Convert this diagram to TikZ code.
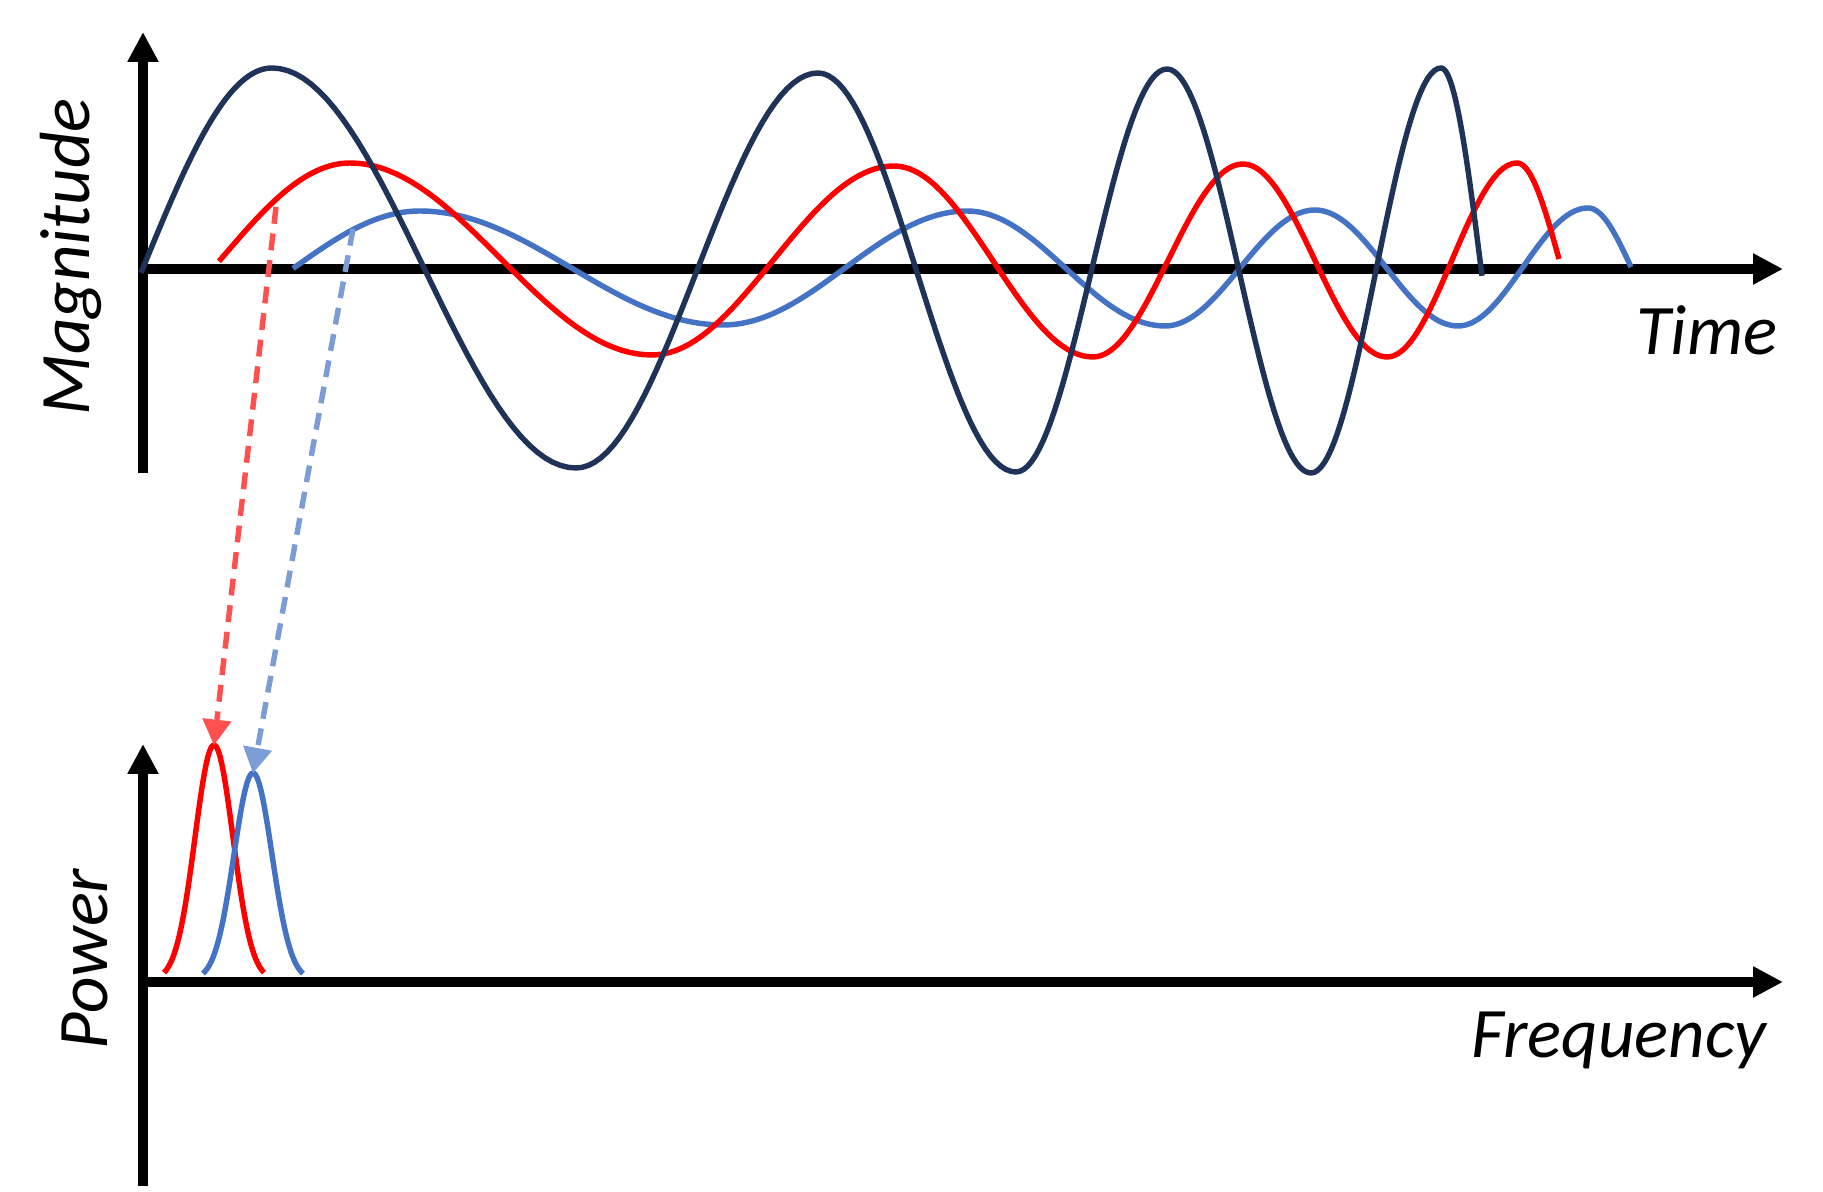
\documentclass[tikz,border=0pt]{standalone}
\usepackage{fontspec}
\setmainfont{Carlito}
\usetikzlibrary{arrows.meta}
\definecolor{navyc}{RGB}{31,51,88}
\definecolor{redc}{RGB}{255,0,0}
\definecolor{bluec}{RGB}{68,114,196}
\definecolor{redl}{RGB}{255,80,80}
\definecolor{bluel}{RGB}{124,156,214}
\newcommand\hwA[6]{plot[domain=#5:#6,samples=40] (\x,{(#2+#4)/2+(#2-#4)/2*cos((\x-#1)/(#3-#1)*180)})}
\newcommand\hwB[6]{-- plot[domain=#5:#6,samples=40] (\x,{(#2+#4)/2+(#2-#4)/2*cos((\x-#1)/(#3-#1)*180)})}
\begin{document}
\begin{tikzpicture}[x=0.01cm,y=-0.01cm,
  axis/.style={line width=3pt,-{Triangle[length=8.5pt,width=8.3pt]}},
  wave/.style={line width=1.55pt,line join=round},
  dasharrow/.style={line width=1.55pt,dash pattern=on 4.8pt off 2.8pt,-{Triangle[length=7.2pt,width=8.4pt,line width=0pt]}},
  lbl/.style={font=\fontsize{20.2}{24}\selectfont\itshape,inner sep=0pt}]
\useasboundingbox (0,0) rectangle (1823,1192);
% axes
\coordinate (ya0) at (143,473); \coordinate (ya1) at (143,32);
\coordinate (xa0) at (138,269); \coordinate (xa1) at (1783,269);
\coordinate (yb0) at (143,1186); \coordinate (yb1) at (143,744);
\coordinate (xb0) at (138,982); \coordinate (xb1) at (1783,982);
\draw[axis] (ya0) -- (ya1);
\draw[axis] (xa0) -- (xa1);
\draw[axis] (yb0) -- (yb1);
\draw[axis] (xb0) -- (xb1);
% labels
\node[lbl,rotate=90,anchor=base] (mag) at (90,257) {Magnitude};
\node[lbl,rotate=90,anchor=base] (pow) at (107,959) {Power};
\node[lbl,anchor=base east] (time) at (1778,355) {Time};
\node[lbl,anchor=base east] (freq) at (1767,1058) {Frequency};
% blue wave
\draw[wave,bluec] \hwA{166}{326}{420}{211}{293}{420}
  \hwB{420}{211}{723}{325}{420}{723}
  \hwB{723}{325}{967}{211}{723}{967}
  \hwB{967}{211}{1165}{326}{967}{1165}
  \hwB{1165}{326}{1315}{210}{1165}{1315}
  \hwB{1315}{210}{1458}{326}{1315}{1458}
  \hwB{1458}{326}{1588}{208}{1458}{1588}
  \hwB{1588}{208}{1674}{326}{1588}{1631};
% red wave
\draw[wave,redc] \hwA{92}{355}{350}{163}{219}{350}
  \hwB{350}{163}{652}{355}{350}{652}
  \hwB{652}{355}{894}{166}{652}{894}
  \hwB{894}{166}{1093}{357}{894}{1093}
  \hwB{1093}{357}{1243}{164}{1093}{1243}
  \hwB{1243}{164}{1387}{357}{1243}{1387}
  \hwB{1387}{357}{1517}{163}{1387}{1517}
  \hwB{1517}{163}{1601}{355}{1517}{1559};
% navy wave
\draw[wave,navyc] \hwA{14}{468}{272}{68}{141}{272}
  \hwB{272}{68}{576}{468}{272}{576}
  \hwB{576}{468}{818}{73}{576}{818}
  \hwB{818}{73}{1016}{472}{818}{1016}
  \hwB{1016}{472}{1167}{69}{1016}{1167}
  \hwB{1167}{69}{1311}{473}{1167}{1311}
  \hwB{1311}{473}{1441}{68}{1311}{1441}
  \hwB{1441}{68}{1521}{468}{1441}{1482};
% spectra
\draw[wave,redc] plot[domain=164:264,samples=60] (\x,{980-235*exp(-((\x-214)^2)/(2*19^2))});
\draw[wave,bluec] plot[domain=203:303,samples=60] (\x,{980-207*exp(-((\x-253)^2)/(2*19^2))});
% dashed arrows
\coordinate (rs) at (276,207); \coordinate (rp) at (214,745);
\coordinate (bs) at (353,229); \coordinate (bp) at (253,773);
\draw[dasharrow,redl] (rs) -- (rp);
\draw[dasharrow,bluel] (bs) -- (bp);
\end{tikzpicture}
\end{document}
